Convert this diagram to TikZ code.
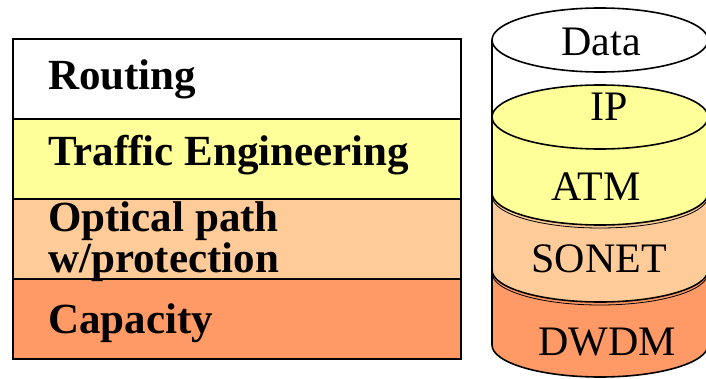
\documentclass[tikz,border=0pt]{standalone}
\usepackage{fontspec}
\setmainfont{Liberation Serif}
\definecolor{lyellow}{HTML}{FFFF99}
\definecolor{lorange}{HTML}{FFCC99}
\definecolor{dorange}{HTML}{FF9966}
\begin{document}
\begin{tikzpicture}[x=1pt,y=-1pt,
  rowbox/.style={draw=black,line width=2pt,minimum width=448pt,minimum height=80pt,inner sep=0pt,anchor=north west},
  rowtext/.style={anchor=base west,inner sep=0pt,font=\fontsize{43}{43}\selectfont\bfseries},
  cyltext/.style={anchor=base,inner sep=0pt,font=\fontsize{42}{42}\selectfont},
  cylline/.style={draw=black,line width=1.6pt},
  thinline/.style={draw=black,line width=0.8pt},
  cylr/.style={x radius=108pt,y radius=32pt},
  lowarc/.style={start angle=180,end angle=360,x radius=108pt,y radius=32pt}]
\useasboundingbox (0,0) rectangle (706,378);

% layer stack on the left
\node[rowbox,fill=white]   (routing)  at (12,38)  {};
\node[rowbox,fill=lyellow] (traffic)  at (12,118) {};
\node[rowbox,fill=lorange] (optical)  at (12,198) {};
\node[rowbox,fill=dorange] (capacity) at (12,278) {};

\node[rowtext] (troute) at (48,89)  {Routing};
\node[rowtext] (tte)    at (48,165) {Traffic Engineering};
\node[rowtext] (topt1)  at (48,231) {Optical path};
\node[rowtext] (topt2)  at (48,272) {w/protection};
\node[rowtext] (tcap)   at (48,333) {Capacity};

% protocol cylinder on the right, drawn bottom segment first
\def\cL{492}\def\cR{708}\def\cX{600}
% DWDM
\path[fill=dorange] (\cL,270) -- (\cL,345) arc[lowarc] -- (\cR,270) -- cycle;
\draw[cylline] (\cL,345) arc[lowarc];
% SONET
\path[fill=lorange] (\cL,193) -- (\cL,270) arc[lowarc] -- (\cR,193) -- cycle;
\draw[cylline] (\cL,270) arc[lowarc];
\draw[thinline] (\cL,273) arc[lowarc];
% Data
\path[fill=white] (\cL,40) -- (\cL,117) -- (\cR,117) -- (\cR,40) -- cycle;
% IP / ATM
\path[fill=lyellow] (\cL,117) -- (\cL,193) arc[lowarc] -- (\cR,117) -- cycle;
\draw[cylline] (\cL,193) arc[lowarc];
\draw[thinline] (\cL,196) arc[lowarc];
\draw[cylline,fill=lyellow] (\cX,117) ellipse[cylr];
% top of the cylinder
\draw[cylline,fill=white] (\cX,40) ellipse[cylr];
% outer sides
\draw[cylline] (\cL,40) -- (\cL,345);
\draw[cylline] (\cR,40) -- (\cR,345);

\node[cyltext] (data)  at (601,55)  {Data};
\node[cyltext] (ip)    at (609,120) {IP};
\node[cyltext] (atm)   at (596,200) {ATM};
\node[cyltext] (sonet) at (599,272) {SONET};
\node[cyltext] (dwdm)  at (607,355) {DWDM};
\end{tikzpicture}
\end{document}
